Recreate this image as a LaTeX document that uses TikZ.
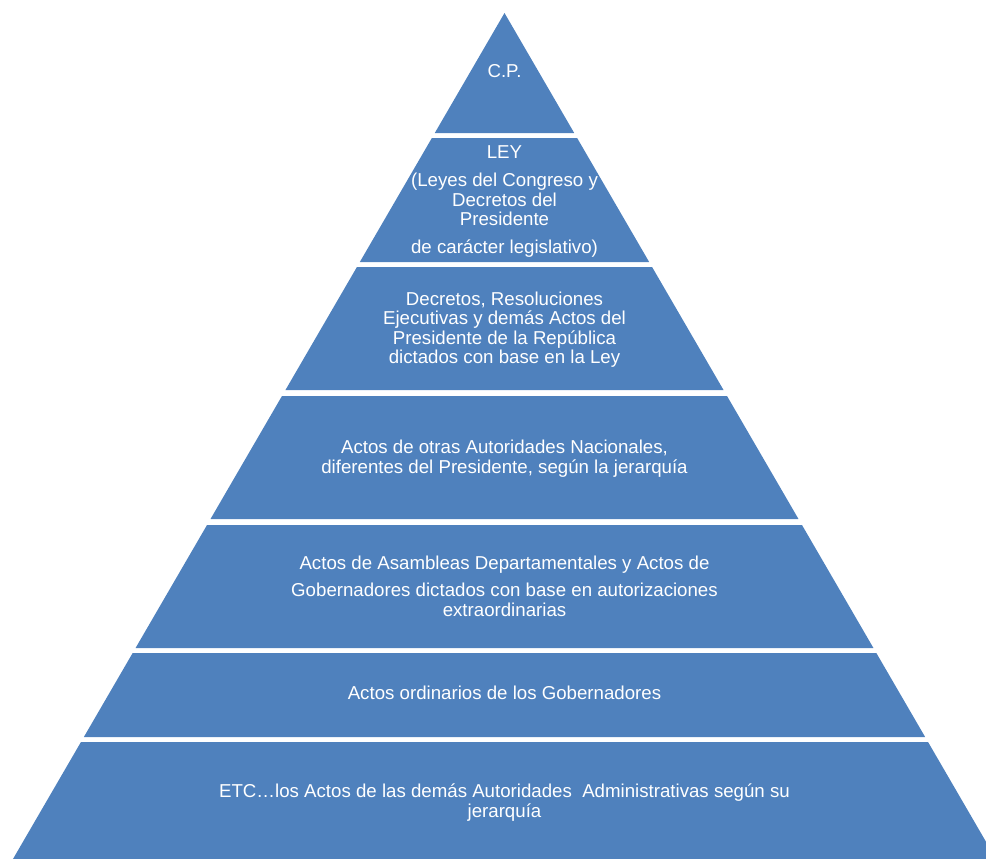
\documentclass[tikz,border=0pt]{standalone}
\usepackage{fontspec}
\setmainfont{Liberation Sans}
\usetikzlibrary{positioning}
\definecolor{pyrblue}{HTML}{4F81BD}
\tikzset{
  band/.style={fill=pyrblue},
  label/.style={text=white, align=center, inner sep=0pt, font=\fontsize{18.67}{19.5}\selectfont}
}

\begin{document}
\begin{tikzpicture}[x=1pt,y=-1pt]
    \useasboundingbox (0,0) rectangle (986,859);
    \clip (0,0) rectangle (986,859);
    \foreach \ya/\yb in {13/133,138/262,267/390,396/519,525/648,653/737,742/880}
      \fill[band] ({504.5-0.581*(\ya-13)},\ya) -- ({504.5+0.581*(\ya-13)},\ya)
        -- ({504.5+0.581*(\yb-13)},\yb) -- ({504.5-0.581*(\yb-13)},\yb) -- cycle;
    \node[label] (cp) at (504.5,71) {C.P.};
    \node[label] (ley) at (504.5,201.5) {LEY\\[8.5pt](Leyes del Congreso y\\Decretos del\\Presidente\\[8pt]de carácter legislativo)};
    \node[label] (decretos) at (504.5,329.5) {Decretos, Resoluciones\\Ejecutivas y demás Actos del\\Presidente de la República\\dictados con base en la Ley};
    \node[label] (otras) at (504.5,458.5) {Actos de otras Autoridades Nacionales,\\[1pt]diferentes del Presidente, según la jerarquía};
    \node[label] (asambleas) at (504.5,586.5) {Actos de Asambleas Departamentales y Actos de\\[7pt]Gobernadores dictados con base en autorizaciones\\[0.5pt]extraordinarias};
    \node[label] (ordinarios) at (504.5,693) {Actos ordinarios de los Gobernadores};
    \node[label] (etc) at (504.5,803) {ETC…los Actos de las demás Autoridades\ \ Administrativas según su\\[0.5pt]jerarquía};
\end{tikzpicture}
\end{document}
